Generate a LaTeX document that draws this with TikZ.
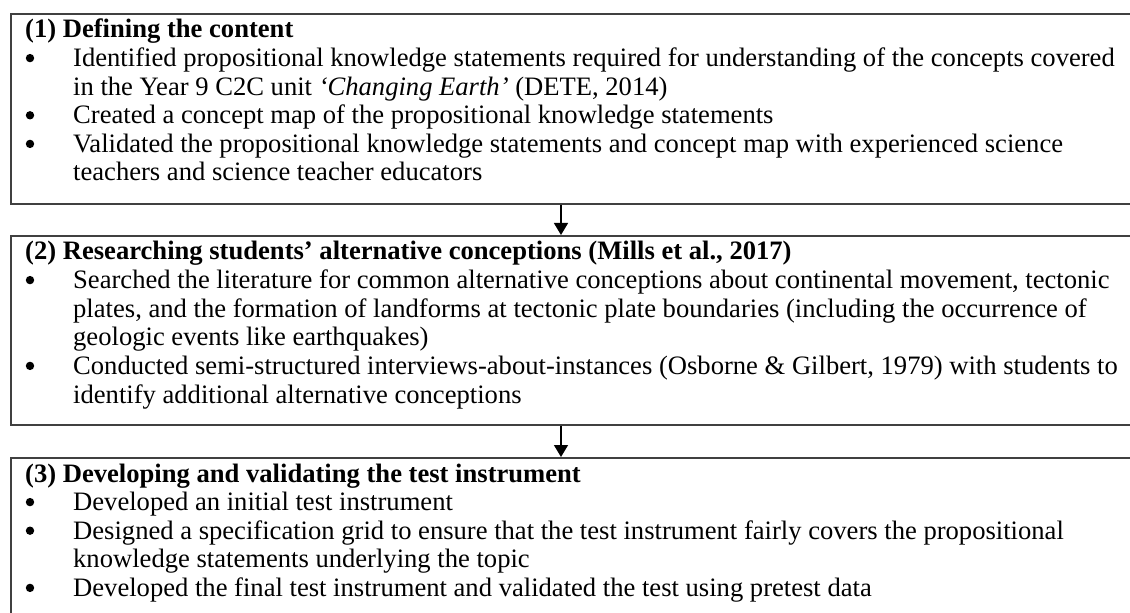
\documentclass[tikz,border=0pt]{standalone}
\usepackage{fontspec}
\setmainfont{Liberation Serif}
\usetikzlibrary{arrows.meta,calc}
\definecolor{boxgray}{HTML}{404040}
\begin{document}
\begin{tikzpicture}[x=1bp,y=-1bp,
  stagebox/.style={draw=boxgray,line width=1.6bp,rectangle,inner sep=0pt,anchor=north west,minimum width=1160bp},
  txt/.style={anchor=base west,inner sep=0pt,font=\fontsize{26.6bp}{28.6bp}\selectfont},
  bul/.style={circle,fill=black,inner sep=0pt,minimum size=8.4bp},
  arr/.style={line width=1.3bp,-{Triangle[length=12bp,width=14bp]}}]
\useasboundingbox (0,0) rectangle (1130,613);
\clip (0,0) rectangle (1130,613);
% boxes
\node[stagebox,minimum height=190bp] (b1) at (10,13) {};
\node[stagebox,minimum height=189bp] (b2) at (10,235) {};
\node[stagebox,minimum height=200bp] (b3) at (10,457) {};
% arrows
\coordinate (a1s) at ($(b1.south west)+(551,0)$);
\coordinate (a1e) at ($(b2.north west)+(551,0)$);
\coordinate (a2s) at ($(b2.south west)+(551,0)$);
\coordinate (a2e) at ($(b3.north west)+(551,0)$);
\draw[arr] (a1s) -- (a1e);
\draw[arr] (a2s) -- (a2e);
% box 1
\node[txt] (h1) at (25,38) {\textbf{(1) Defining the content}};
\node[bul] (p11) at (30,66.6-8.5) {};
\node[txt] (t11) at (73,66.6) {Identified propositional knowledge statements required for understanding of the concepts covered};
\node[txt] (t12) at (73,95.2) {in the Year 9 C2C unit \textit{‘Changing Earth’} (DETE, 2014)};
\node[bul] (p12) at (30,123.8-8.5) {};
\node[txt] (t13) at (73,123.8) {Created a concept map of the propositional knowledge statements};
\node[bul] (p13) at (30,152.4-8.5) {};
\node[txt] (t14) at (73,152.4) {Validated the propositional knowledge statements and concept map with experienced science};
\node[txt] (t15) at (73,181) {teachers and science teacher educators};
% box 2
\node[txt] (h2) at (25,260) {\textbf{(2) Researching students’ alternative conceptions (Mills et al., 2017)}};
\node[bul] (p21) at (30,288.6-8.5) {};
\node[txt] (t21) at (73,288.6) {Searched the literature for common alternative conceptions about continental movement, tectonic};
\node[txt] (t22) at (73,317.2) {plates, and the formation of landforms at tectonic plate boundaries (including the occurrence of};
\node[txt] (t23) at (73,345.8) {geologic events like earthquakes)};
\node[bul] (p22) at (30,374.4-8.5) {};
\node[txt] (t24) at (73,374.4) {Conducted semi-structured interviews-about-instances (Osborne \& Gilbert, 1979) with students to};
\node[txt] (t25) at (73,403) {identify additional alternative conceptions};
% box 3
\node[txt] (h3) at (25,482) {\textbf{(3) Developing and validating the test instrument}};
\node[bul] (p31) at (30,510.6-8.5) {};
\node[txt] (t31) at (73,510.6) {Developed an initial test instrument};
\node[bul] (p32) at (30,539.2-8.5) {};
\node[txt] (t32) at (73,539.2) {Designed a specification grid to ensure that the test instrument fairly covers the propositional};
\node[txt] (t33) at (73,567.8) {knowledge statements underlying the topic};
\node[bul] (p33) at (30,596.4-8.5) {};
\node[txt] (t34) at (73,596.4) {Developed the final test instrument and validated the test using pretest data};
\end{tikzpicture}
\end{document}
